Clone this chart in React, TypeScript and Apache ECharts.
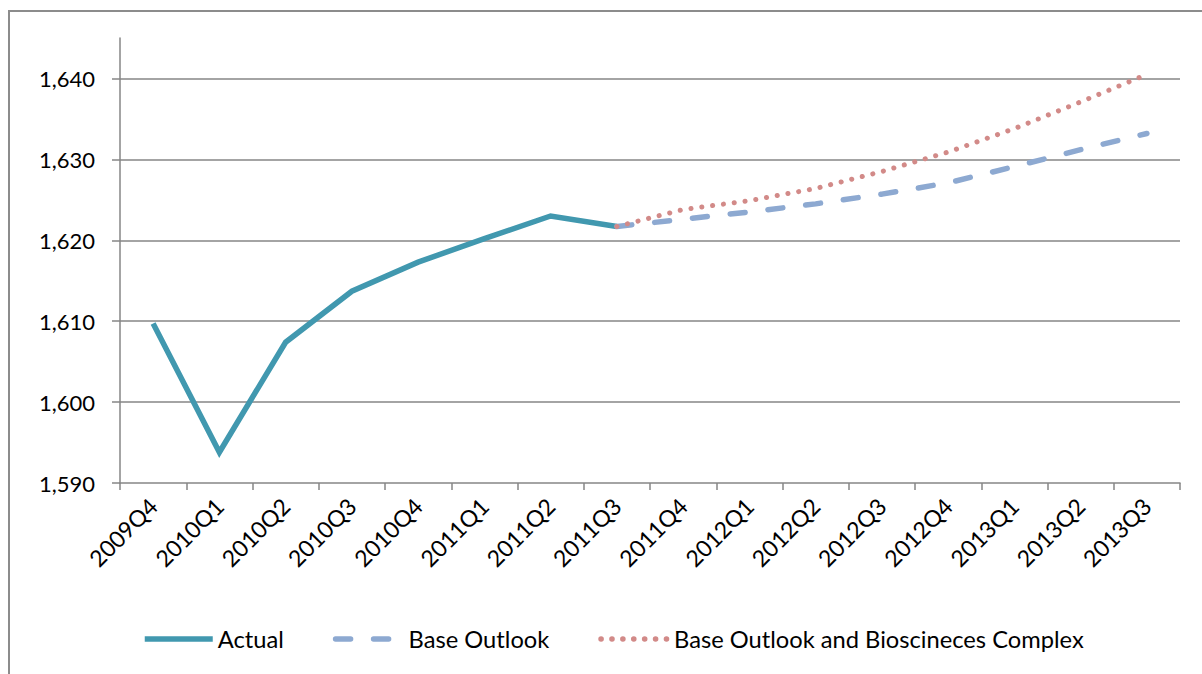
import React, { useEffect, useRef } from "react";
import * as echarts from "echarts";

const categories = [
  "2009Q4", "2010Q1", "2010Q2", "2010Q3", "2010Q4", "2011Q1", "2011Q2", "2011Q3",
  "2011Q4", "2012Q1", "2012Q2", "2012Q3", "2012Q4", "2013Q1", "2013Q2", "2013Q3",
];
const actual = [1609.7, 1593.8, 1607.4, 1613.7, 1617.3, 1620.2, 1623.0, 1621.7, null, null, null, null, null, null, null, null];
const baseOutlook = [null, null, null, null, null, null, null, 1621.7, 1622.6, 1623.5, 1624.5, 1625.7, 1627.1, 1629.1, 1631.2, 1633.2];
const bioOutlook = [null, null, null, null, null, null, null, 1621.7, 1623.8, 1624.9, 1626.4, 1628.5, 1630.9, 1633.8, 1637.1, 1640.5];
const yMin = 1590;
const yMax = 1645;
const yStep = 10;

const FONT = "Lato";
const AXIS_COLOR = "#868686";
const LW = 5.5;

export default function App() {
  const ref = useRef<HTMLDivElement>(null);
  useEffect(() => {
    if (!ref.current) return;
    const chart = echarts.init(ref.current, null, { renderer: "svg" });
    chart.setOption({
      animation: false,
      backgroundColor: "#ffffff",
      textStyle: { fontFamily: FONT },
      grid: { left: 110, right: 22, top: 26, bottom: 191, containLabel: false },
      legend: {
        left: 132,
        top: 615,
        padding: 0,
        itemWidth: 68,
        itemHeight: 24,
        itemGap: 49,
        itemStyle: { opacity: 0 },
        lineStyle: { width: LW },
        textStyle: { fontFamily: FONT, fontSize: 23.7, lineHeight: 24, color: "#000", padding: [0, 0, 0, 0] },
        data: ["Actual", "Base Outlook", "Base Outlook and Bioscineces Complex"],
      },
      xAxis: {
        type: "category",
        data: categories,
        boundaryGap: true,
        axisLine: { lineStyle: { color: AXIS_COLOR, width: 1.5 } },
        axisTick: { show: true, interval: 0, length: 7, lineStyle: { color: AXIS_COLOR, width: 1.5 } },
        axisLabel: {
          interval: 0,
          rotate: 45,
          margin: 19,
          color: "#000",
          fontFamily: FONT,
          fontSize: 23,
        },
        splitLine: { show: false },
      },
      yAxis: {
        type: "value",
        min: yMin,
        max: yMax,
        interval: yStep,
        axisLine: { show: true, lineStyle: { color: AXIS_COLOR, width: 1.5 } },
        axisTick: { show: true, length: 8, lineStyle: { color: AXIS_COLOR, width: 1.5 } },
        axisLabel: {
          showMaxLabel: false,
          margin: 25,
          color: "#000",
          fontFamily: FONT,
          fontSize: 22,
          formatter: (v: number) => (v % yStep === 0 ? v.toLocaleString("en-US") : ""),
        },
        splitLine: { show: true, showMaxLine: false, showMinLine: false, lineStyle: { color: AXIS_COLOR, width: 1.5 } },
      },
      series: [
        {
          name: "Actual",
          type: "line",
          data: actual,
          symbol: "none",
          connectNulls: false,
          lineStyle: { color: "#4198AF", width: LW, cap: "butt", join: "miter" },
          itemStyle: { color: "#4198AF" },
        },
        {
          name: "Base Outlook",
          type: "line",
          data: baseOutlook,
          symbol: "none",
          lineStyle: { color: "#8DA9D1", width: LW, type: [15, 23], cap: "round" },
          itemStyle: { color: "#8DA9D1" },
        },
        {
          name: "Base Outlook and Bioscineces Complex",
          type: "line",
          data: bioOutlook,
          symbol: "none",
          lineStyle: { color: "#D28A88", width: LW - 0.5, type: [0.1, 10.8], cap: "round" },
          itemStyle: { color: "#D28A88" },
        },
      ],
    });
    return () => chart.dispose();
  }, []);
  return (
    <div
      style={{
        position: "absolute",
        left: 8,
        top: 10,
        width: 1194,
        height: 664,
        borderLeft: "2px solid #8c8c8c",
        borderTop: "2px solid #8c8c8c",
        boxSizing: "border-box",
        background: "#fff",
      }}
    >
      <div ref={ref} style={{ width: 1192, height: 662 }} />
    </div>
  );
}
